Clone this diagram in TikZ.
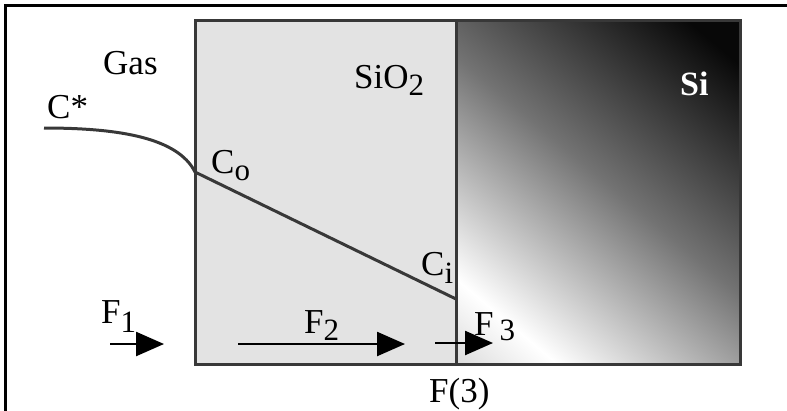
\documentclass[tikz,border=0pt]{standalone}
\usepackage{fontspec}
\setmainfont{Liberation Serif}
\usetikzlibrary{arrows.meta}
\newcommand\lowsub[2]{\raisebox{-#1}{\fontsize{31bp}{33bp}\selectfont #2}}
\pgfdeclareverticalshading{sishade}{100bp}{color(0bp)=(black!15); color(14bp)=(black!15); color(25bp)=(white); color(52bp)=(black!55); color(80bp)=(black!97); color(100bp)=(black!97)}
\tikzset{
  lab/.style={anchor=base west, inner sep=0pt, font=\fontsize{35bp}{40bp}\selectfont, text=black},
  region/.style={draw=black!78, line width=3bp},
  flux/.style={line width=2.4bp, -{Triangle[length=28bp,width=24bp]}},
  profile/.style={draw=black!78, line width=3bp}
}
\begin{document}
\begin{tikzpicture}[x=1bp,y=-1bp]
\useasboundingbox (0,0) rectangle (787,410);
% outer frame (extends past right and bottom)
\draw[line width=3bp] (5,420) -- (5,5) -- (800,5);
% oxide
\fill[black!11] (195,20) rectangle (456,364);
% silicon gradient
\shade[shading=sishade, shading angle=-40] (456,20) rectangle (740,364);
\draw[region] (195,20) rectangle (740,364);
\draw[region] (456,20) -- (456,364);
% profile
\coordinate (cs) at (44,128);
\coordinate (co) at (195,172);
\coordinate (ci) at (456,299);
\draw[profile] (cs) .. controls (120,128) and (178,138) .. (co) -- (ci);
% labels
\node[lab] (gas) at (103,74) {Gas};
\node[lab] (cstar) at (47,118) {C*};
\node[lab] (clo) at (211,173) {C\lowsub{7bp}{o}};
\node[lab] (sio) at (354,88) {SiO\lowsub{7bp}{2}};
\node[lab, text=white, font=\fontsize{34bp}{38bp}\selectfont\bfseries] (si) at (680,95) {Si};
\node[lab] (cli) at (421,275) {C\lowsub{8bp}{i}};
\node[lab] (f1) at (101,323) {F\lowsub{9bp}{1}};
\node[lab] (f2) at (304,333) {F\lowsub{7bp}{2}};
\node[lab] (f3) at (474,335) {F\,\lowsub{5bp}{3}};
\node[lab] (f3b) at (429,402) {F(3)};
% flux arrows
\coordinate (a1s) at (110,344); \coordinate (a1e) at (164,344);
\coordinate (a2s) at (238,344); \coordinate (a2e) at (405,344);
\coordinate (a3s) at (435,343); \coordinate (a3e) at (493,343);
\draw[flux] (a1s) -- (a1e);
\draw[flux] (a2s) -- (a2e);
\draw[flux] (a3s) -- (a3e);
\end{tikzpicture}
\end{document}
